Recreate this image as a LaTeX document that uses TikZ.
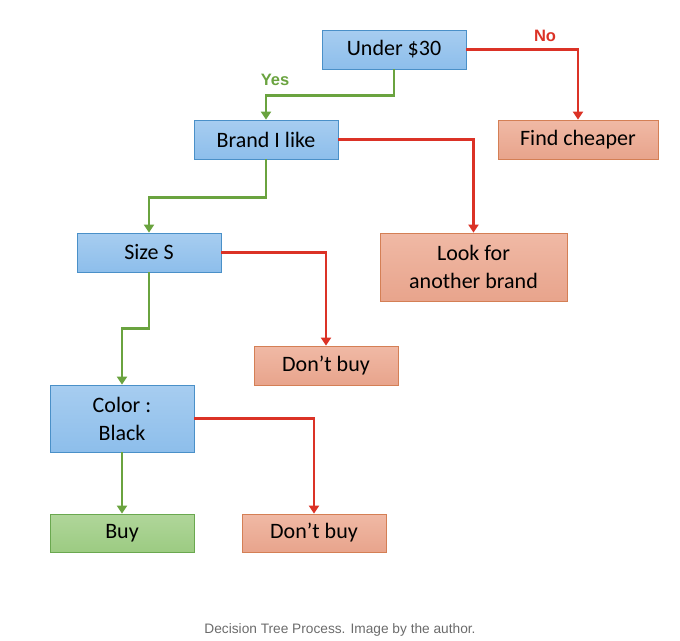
\documentclass[tikz,border=0pt]{standalone}
\usepackage{fontspec}
\setmainfont{Carlito}
\newfontfamily\capfont{Liberation Sans}
\usetikzlibrary{arrows.meta,positioning}
\definecolor{bluefill}{HTML}{A7CDF0}
\definecolor{bluefilldark}{HTML}{8DBEEB}
\definecolor{blueline}{HTML}{4A90C8}
\definecolor{redfill}{HTML}{F0B9A5}
\definecolor{redfilldark}{HTML}{E8A48C}
\definecolor{redbox}{HTML}{D47F55}
\definecolor{greenfill}{HTML}{B0D69A}
\definecolor{greenfilldark}{HTML}{9CCB82}
\definecolor{greenbox}{HTML}{6AA84F}
\definecolor{noline}{HTML}{DB3226}
\definecolor{yesline}{HTML}{6AA33F}
\definecolor{capgray}{HTML}{6B6B6B}
\tikzset{
  box/.style={rectangle,minimum width=144pt,minimum height=39pt,align=center,
    font=\fontsize{22}{28}\selectfont,line width=0.8pt,inner sep=0pt},
  question/.style={box,draw=blueline,top color=bluefill,bottom color=bluefilldark},
  stop/.style={box,draw=redbox,top color=redfill,bottom color=redfilldark},
  go/.style={box,draw=greenbox,top color=greenfill,bottom color=greenfilldark},
  yes/.style={draw=yesline,line width=2.6pt,-{Triangle[width=10pt,length=8pt]}},
  no/.style={draw=noline,line width=2.6pt,-{Triangle[width=10pt,length=8pt]}},
  answer/.style={font=\capfont\bfseries\fontsize{16.5}{19}\selectfont}
}
\begin{document}
\begin{tikzpicture}[x=1pt,y=-1pt]
  \useasboundingbox (0,0) rectangle (680,640);

  \node[question] (under) at (394,49.5) {Under \$30};
  \node[stop,minimum width=160pt] (cheaper) at (578,139.5) {Find cheaper};
  \node[question] (brand) at (266,139.5) {Brand I like};
  \node[stop,minimum width=187pt,minimum height=68pt] (other) at (473.5,267) {Look for\\another brand};
  \node[question] (size) at (149,252.5) {Size S};
  \node[stop] (nobuy1) at (326,365.5) {Don't buy};
  \node[question,minimum height=67pt] (color) at (122,418.5) {Color :\\Black};
  \node[go,minimum height=38pt] (buy) at (122,533) {Buy};
  \node[stop,minimum height=38pt] (nobuy2) at (314,533) {Don't buy};

  \node[answer,text=yesline] (yeslabel) at (275,80) {Yes};
  \node[answer,text=noline] (nolabel) at (545,36) {No};

  % yes branches
  \draw[yes] (under.south) -- ++(0,26) -| (brand.north);
  \draw[yes] (brand.south) -- ++(0,38) -| (size.north);
  \draw[yes] (size.south) -- ++(0,56) -| (color.north);
  \draw[yes] (color.south) -- (buy.north);

  % no branches
  \draw[no] (under.east) -| (cheaper.north);
  \draw[no] (brand.east) -| (other.north);
  \draw[no] (size.east) -| (nobuy1.north);
  \draw[no] (color.east) -| (nobuy2.north);

  \node[font=\capfont\fontsize{13.7}{16}\selectfont,text=capgray] (caption) at (340,630) {Decision Tree Process. Image by the author.};
\end{tikzpicture}
\end{document}
